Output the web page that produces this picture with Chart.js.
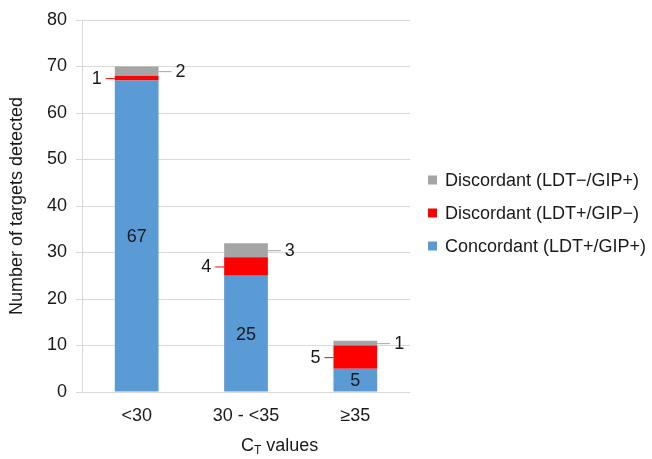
<!DOCTYPE html>
<html><head><meta charset="utf-8">
<script src="https://cdn.jsdelivr.net/npm/chart.js@4.4.1/dist/chart.umd.min.js"></script>
<style>html,body{margin:0;padding:0;background:#fff}#wrap{width:652px;height:459px}</style>
</head><body><div id="wrap"><canvas id="c" width="652" height="459"></canvas></div>
<script>
const categories = ['<30', '30 - <35', '\u226535'];
const concordant = [67, 25, 5];
const discordantPosNeg = [1, 4, 5];
const discordantNegPos = [2, 3, 1];
const seriesNames = ['Concordant (LDT+/GIP+)', 'Discordant (LDT+/GIP\u2212)', 'Discordant (LDT\u2212/GIP+)'];
const seriesColors = ['#5B9BD5', '#FF0000', '#A5A5A5'];
const yMin = 0, yMax = 80, yStep = 10;
const yTitle = 'Number of targets detected';

const FONT = '"Liberation Sans", Arial, sans-serif';
const FS = 18;
const TXT = '#1a1a1a';

const labelPlugin = {
  id: 'labels',
  afterDatasetsDraw(chart) {
    const ctx = chart.ctx;
    ctx.save();
    ctx.font = FS + 'px ' + FONT;
    ctx.fillStyle = TXT;
    ctx.textBaseline = 'middle';
    chart.data.datasets.forEach((ds, di) => {
      const meta = chart.getDatasetMeta(di);
      meta.data.forEach((bar, i) => {
        const v = ds.data[i];
        const left = bar.x - bar.width / 2, right = bar.x + bar.width / 2;
        const my = (bar.y + bar.base) / 2;
        if (di === 0) {
          ctx.textAlign = 'center';
          ctx.fillText(String(v), bar.x, my + 1);
        } else if (di === 1) {
          ctx.strokeStyle = seriesColors[1];
          ctx.lineWidth = 1;
          ctx.beginPath(); ctx.moveTo(left - 9, my + 0.5); ctx.lineTo(left, my + 0.5); ctx.stroke();
          ctx.textAlign = 'center';
          ctx.fillText(String(v), left - 18, my + 1);
        } else {
          ctx.strokeStyle = seriesColors[2];
          ctx.lineWidth = 1;
          ctx.beginPath(); ctx.moveTo(right, my + 0.5); ctx.lineTo(right + 13, my + 0.5); ctx.stroke();
          ctx.textAlign = 'center';
          ctx.fillText(String(v), right + 22, my + 1);
        }
      });
    });
    ctx.restore();
  }
};

const extrasPlugin = {
  id: 'extras',
  afterDraw(chart) {
    const ctx = chart.ctx;
    ctx.save();
    // legend (reverse order)
    ctx.font = FS + 'px ' + FONT;
    ctx.textBaseline = 'middle';
    ctx.textAlign = 'left';
    const order = [2, 1, 0];
    order.forEach((di, k) => {
      const y = 180 + k * 33;
      ctx.fillStyle = seriesColors[di];
      ctx.fillRect(428, y - 4.5, 9, 9);
      ctx.fillStyle = TXT;
      ctx.fillText(seriesNames[di], 445, y + 1);
    });
    // x-axis title with subscript T
    const base = 451;
    let x = 241;
    ctx.textBaseline = 'alphabetic';
    ctx.font = FS + 'px ' + FONT;
    ctx.fillText('C', x, base);
    x += ctx.measureText('C').width;
    ctx.font = '12px ' + FONT;
    ctx.fillText('T', x, base + 3);
    x += ctx.measureText('T').width;
    ctx.font = FS + 'px ' + FONT;
    ctx.fillText(' values', x, base);
    ctx.restore();
  }
};

new Chart(document.getElementById('c'), {
  type: 'bar',
  data: {
    labels: categories,
    datasets: [
      { label: seriesNames[0], data: concordant, backgroundColor: seriesColors[0] },
      { label: seriesNames[1], data: discordantPosNeg, backgroundColor: seriesColors[1] },
      { label: seriesNames[2], data: discordantNegPos, backgroundColor: seriesColors[2] }
    ]
  },
  options: {
    responsive: false,
    animation: false,
    layout: { padding: { left: 0, right: 242, top: 20, bottom: 0 } },
    datasets: { bar: { barPercentage: 0.4, categoryPercentage: 1 } },
    plugins: { legend: { display: false }, tooltip: { enabled: false } },
    scales: {
      x: {
        stacked: true,
        grid: { display: false },
        border: { display: false },
        ticks: { color: TXT, font: { family: FONT, size: FS }, padding: 5 },
        afterFit(s) { s.height = 67; }
      },
      y: {
        stacked: true,
        min: yMin, max: yMax,
        ticks: { stepSize: yStep, color: TXT, font: { family: FONT, size: FS }, padding: 9 },
        grid: { color: '#D9D9D9', tickLength: 6 },
        border: { display: true, color: '#D9D9D9' },
        title: { display: true, text: yTitle, color: TXT, font: { family: FONT, size: FS }, padding: { top: 6, bottom: 0 } },
        afterFit(s) { s.width = 82; }
      }
    }
  },
  plugins: [labelPlugin, extrasPlugin]
});
</script>
</body></html>
